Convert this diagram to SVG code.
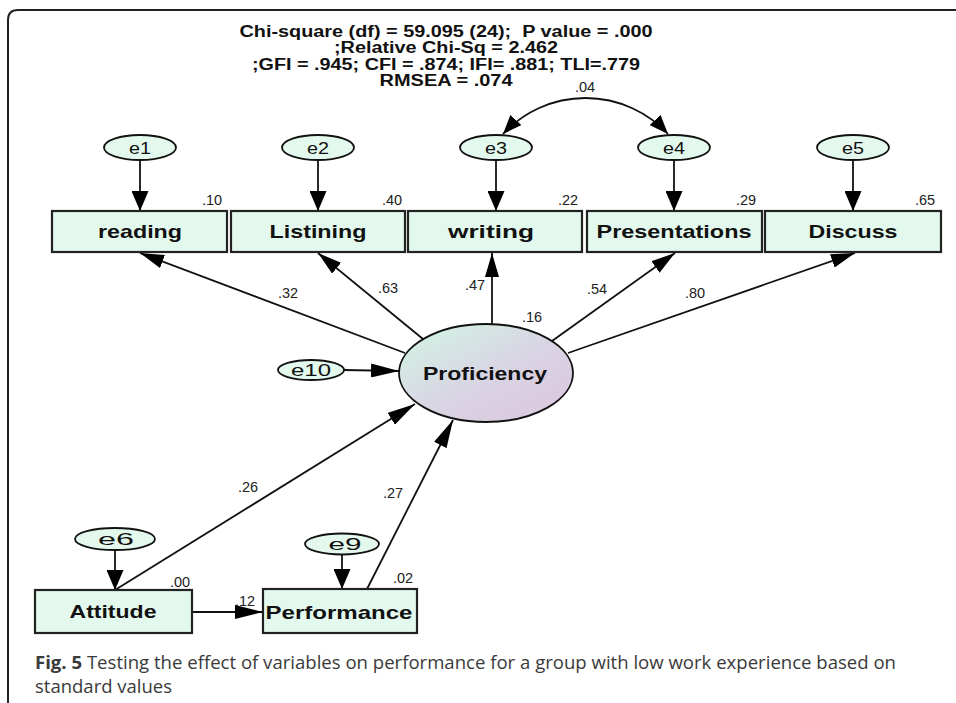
<svg xmlns="http://www.w3.org/2000/svg" width="956" height="703" viewBox="0 0 956 703">
<defs>
  <style>
    .box { fill: #e4f9ed; stroke: #222; stroke-width: 2.2; }
    .err { fill: #e4f9ed; stroke: #111; stroke-width: 1.8; }
    .lbl { font-family: "Liberation Sans", Arial, sans-serif; font-weight: bold; font-size: 19px; fill: #111; text-anchor: middle; }
    .elbl { font-family: "Liberation Sans", Arial, sans-serif; font-size: 17px; fill: #111; text-anchor: middle; }
    .num { font-family: "Liberation Sans", Arial, sans-serif; font-size: 14.5px; fill: #222; text-anchor: middle; }
    .title { font-family: "Liberation Sans", Arial, sans-serif; font-weight: bold; font-size: 16px; fill: #111; text-anchor: middle; }
    .cap { font-family: "Open Sans", "Noto Sans", sans-serif; font-size: 18.5px; fill: #3a3a3a; }
    .ln { fill: none; stroke: #111; stroke-width: 1.8; }
  </style>
  <linearGradient id="profGrad" x1="0" y1="0" x2="1" y2="1">
    <stop offset="0" stop-color="#d2f6e4"/>
    <stop offset="0.55" stop-color="#d9d3e3"/>
    <stop offset="1" stop-color="#dcc6de"/>
  </linearGradient>
  <marker id="ahA" markerUnits="userSpaceOnUse" markerWidth="20" markerHeight="17" refX="20" refY="8.5" orient="auto">
    <path d="M0,0 L20,8.5 L0,17 z" fill="#000"/>
  </marker>
  <marker id="ahB" markerUnits="userSpaceOnUse" markerWidth="24" markerHeight="14" refX="24" refY="7" orient="auto">
    <path d="M0,0 L24,7 L0,14 z" fill="#000"/>
  </marker>
  <marker id="ahC" markerUnits="userSpaceOnUse" markerWidth="28" markerHeight="14" refX="28" refY="7" orient="auto">
    <path d="M0,0 L28,7 L0,14 z" fill="#000"/>
  </marker>
  <marker id="ahD" markerUnits="userSpaceOnUse" markerWidth="19" markerHeight="15" refX="19" refY="7.5" orient="auto-start-reverse">
    <path d="M0,0 L19,7.5 L0,15 z" fill="#000"/>
  </marker>
</defs>

<rect x="0" y="0" width="956" height="703" fill="#fff"/>
<path d="M 8 703 L 8 20 Q 8 10 18 10 L 956 10" fill="none" stroke="#222" stroke-width="2"/>

<g id="title">
  <text class="title" x="446" y="37" textLength="413" lengthAdjust="spacingAndGlyphs" xml:space="preserve">Chi-square (df) = 59.095 (24);  P value = .000</text>
  <text class="title" x="446" y="53" textLength="224" lengthAdjust="spacingAndGlyphs">;Relative Chi-Sq = 2.462</text>
  <text class="title" x="446" y="70" textLength="388" lengthAdjust="spacingAndGlyphs">;GFI = .945; CFI = .874; IFI= .881; TLI=.779</text>
  <text class="title" x="446" y="86" textLength="133" lengthAdjust="spacingAndGlyphs">RMSEA = .074</text>
</g>

<g id="connectors">
  <path class="ln" d="M 503 134 A 112.5 112.5 0 0 1 668 134" marker-start="url(#ahD)" marker-end="url(#ahD)"/>
  <line class="ln" x1="140" y1="160" x2="140" y2="211" marker-end="url(#ahA)"/>
  <line class="ln" x1="318" y1="160" x2="318" y2="211" marker-end="url(#ahA)"/>
  <line class="ln" x1="496" y1="160" x2="496" y2="211" marker-end="url(#ahA)"/>
  <line class="ln" x1="674" y1="160" x2="674" y2="211" marker-end="url(#ahA)"/>
  <line class="ln" x1="853" y1="160" x2="853" y2="211" marker-end="url(#ahA)"/>
  <line class="ln" x1="405" y1="353" x2="140" y2="253" marker-end="url(#ahB)"/>
  <line class="ln" x1="423" y1="339" x2="318" y2="253" marker-end="url(#ahB)"/>
  <line class="ln" x1="492" y1="325" x2="492" y2="253" marker-end="url(#ahB)"/>
  <line class="ln" x1="552" y1="341" x2="675" y2="253" marker-end="url(#ahB)"/>
  <line class="ln" x1="568" y1="353" x2="855" y2="253" marker-end="url(#ahB)"/>
  <line class="ln" x1="344" y1="370" x2="399" y2="371" marker-end="url(#ahC)"/>
  <line class="ln" x1="115" y1="590" x2="415" y2="404" marker-end="url(#ahC)"/>
  <line class="ln" x1="367" y1="589" x2="453" y2="420" marker-end="url(#ahC)"/>
  <line class="ln" x1="192" y1="612" x2="263" y2="612" marker-end="url(#ahC)"/>
  <line class="ln" x1="115" y1="550" x2="115" y2="590" marker-end="url(#ahA)"/>
  <line class="ln" x1="342" y1="555" x2="342" y2="589" marker-end="url(#ahA)"/>
</g>

<g id="e1"><ellipse class="err" cx="140" cy="147.5" rx="36" ry="12.5"/><text class="elbl" x="140" y="153.5" textLength="22" lengthAdjust="spacingAndGlyphs">e1</text></g>
<g id="e2"><ellipse class="err" cx="318" cy="147.5" rx="36" ry="12.5"/><text class="elbl" x="318" y="153.5" textLength="22" lengthAdjust="spacingAndGlyphs">e2</text></g>
<g id="e3"><ellipse class="err" cx="496" cy="147.5" rx="36" ry="12.5"/><text class="elbl" x="496" y="153.5" textLength="22" lengthAdjust="spacingAndGlyphs">e3</text></g>
<g id="e4"><ellipse class="err" cx="674" cy="147.5" rx="36" ry="12.5"/><text class="elbl" x="674" y="153.5" textLength="22" lengthAdjust="spacingAndGlyphs">e4</text></g>
<g id="e5"><ellipse class="err" cx="853" cy="147.5" rx="36" ry="12.5"/><text class="elbl" x="853" y="153.5" textLength="22" lengthAdjust="spacingAndGlyphs">e5</text></g>

<g id="reading"><rect class="box" x="52" y="211" width="175" height="41"/><text class="lbl" x="140" y="238" textLength="84" lengthAdjust="spacingAndGlyphs">reading</text><text class="num" x="212" y="205">.10</text></g>
<g id="listining"><rect class="box" x="231" y="211" width="174" height="41"/><text class="lbl" x="318" y="238" textLength="97" lengthAdjust="spacingAndGlyphs">Listining</text><text class="num" x="392" y="205">.40</text></g>
<g id="writing"><rect class="box" x="408" y="211" width="174" height="41"/><text class="lbl" x="491" y="238" textLength="86" lengthAdjust="spacingAndGlyphs">writing</text><text class="num" x="568" y="205">.22</text></g>
<g id="presentations"><rect class="box" x="587" y="211" width="175" height="41"/><text class="lbl" x="674" y="238" textLength="155" lengthAdjust="spacingAndGlyphs">Presentations</text><text class="num" x="746" y="205">.29</text></g>
<g id="discuss"><rect class="box" x="765" y="211" width="176" height="41"/><text class="lbl" x="853" y="238" textLength="89" lengthAdjust="spacingAndGlyphs">Discuss</text><text class="num" x="925" y="205">.65</text></g>

<g id="proficiency">
  <ellipse cx="486" cy="373" rx="87" ry="49" fill="url(#profGrad)" stroke="#111" stroke-width="1.8"/>
  <text class="lbl" x="485" y="380" font-size="18" textLength="124" lengthAdjust="spacingAndGlyphs">Proficiency</text>
  <text class="num" x="532" y="322">.16</text>
</g>
<g id="e10"><ellipse class="err" cx="311" cy="370" rx="33" ry="10"/><text class="elbl" x="311" y="376" textLength="40" lengthAdjust="spacingAndGlyphs">e10</text></g>

<g id="e6"><ellipse class="err" cx="115" cy="539" rx="40" ry="11"/><text class="elbl" x="116" y="545" textLength="36" lengthAdjust="spacingAndGlyphs">e6</text></g>
<g id="e9"><ellipse class="err" cx="342" cy="544" rx="37" ry="10.5"/><text class="elbl" x="345" y="550" textLength="33" lengthAdjust="spacingAndGlyphs">e9</text></g>
<g id="attitude"><rect class="box" x="35" y="590" width="157" height="43"/><text class="lbl" x="113" y="618" textLength="87" lengthAdjust="spacingAndGlyphs">Attitude</text><text class="num" x="180" y="587">.00</text></g>
<g id="performance"><rect class="box" x="263" y="589" width="154" height="44"/><text class="lbl" x="339" y="619" textLength="147" lengthAdjust="spacingAndGlyphs">Performance</text><text class="num" x="403" y="583">.02</text></g>

<g id="path-labels">
  <text class="num" x="288" y="298">.32</text>
  <text class="num" x="388" y="293">.63</text>
  <text class="num" x="475" y="290">.47</text>
  <text class="num" x="597" y="294">.54</text>
  <text class="num" x="695" y="298">.80</text>
  <text class="num" x="248" y="492">.26</text>
  <text class="num" x="393" y="498">.27</text>
  <text class="num" x="245" y="606">.12</text>
  <text class="num" x="585" y="92">.04</text>
</g>

<g id="caption">
  <text class="cap" x="35" y="669" textLength="861" lengthAdjust="spacingAndGlyphs"><tspan font-weight="bold">Fig. 5</tspan> Testing the effect of variables on performance for a group with low work experience based on</text>
  <text class="cap" x="35" y="693">standard values</text>
</g>
</svg>
